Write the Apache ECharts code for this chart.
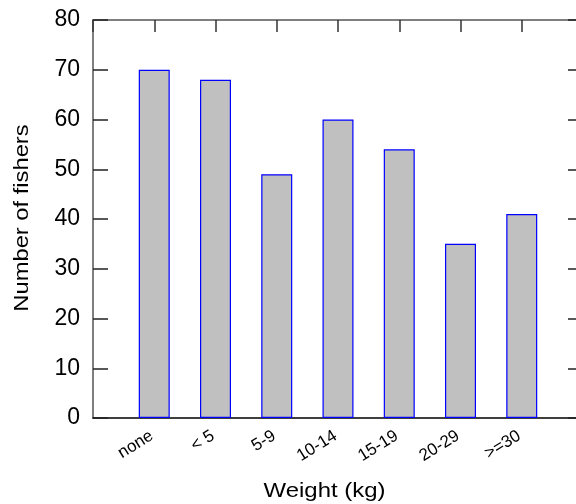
<!DOCTYPE html>
<html>
<head>
<meta charset="utf-8">
<script src="https://cdn.jsdelivr.net/npm/echarts@6/dist/echarts.min.js"></script>
<style>html,body{margin:0;padding:0;background:#fff}#c{width:576px;height:504px}</style>
</head>
<body>
<div id="c"></div>
<script>
var categories = ['none', '< 5', '5-9', '10-14', '15-19', '20-29', '>=30'];
var fishers = [70, 68, 49, 60, 54, 35, 41];
var yTicks = [0, 10, 20, 30, 40, 50, 60, 70, 80];

var chart = echarts.init(document.getElementById('c'), null, {renderer: 'canvas'});
var FONT = 'Liberation Sans, Arial, Helvetica, sans-serif';
var barData = fishers.map(function (v, i) { return [i + 1, v]; });

chart.setOption({
  animation: false,
  backgroundColor: '#ffffff',
  grid: {left: 93, top: 20, width: 490, height: 398, containLabel: false, outerBoundsMode: 'none'},
  xAxis: [{
    type: 'value', min: 0, max: categories.length + 1, interval: 1, position: 'bottom',
    axisLine: {show: true, onZero: false, lineStyle: {color: '#000', width: 1.5}},
    axisTick: {show: false},
    splitLine: {show: false},
    axisLabel: {
      show: true, rotate: 32, margin: 15, fontSize: 17, color: '#000', fontFamily: FONT,
      padding: [0, 3, 0, 0],
      formatter: function (v) { var i = Math.round(v) - 1; return (i >= 0 && i < categories.length) ? categories[i] : ''; }
    }
  }, {
    type: 'value', min: 0, max: categories.length + 1, interval: 1, position: 'top',
    axisLine: {show: true, onZero: false, lineStyle: {color: '#555', width: 1.5}},
    axisTick: {show: true, inside: true, length: 12, lineStyle: {color: '#333', width: 1.5}},
    splitLine: {show: false},
    axisLabel: {show: false}
  }],
  yAxis: [{
    type: 'value', min: yTicks[0], max: yTicks[yTicks.length - 1], interval: 10, position: 'left',
    axisLine: {show: true, onZero: false, lineStyle: {color: '#555', width: 1.5}},
    axisTick: {show: true, inside: true, length: 15, lineStyle: {color: '#222', width: 1.5}},
    splitLine: {show: false},
    axisLabel: {show: true, margin: 13, fontSize: 23, color: '#000', fontFamily: FONT}
  }, {
    type: 'value', min: yTicks[0], max: yTicks[yTicks.length - 1], interval: 10, position: 'right',
    axisLine: {show: true, onZero: false, lineStyle: {color: '#555', width: 1.5}},
    axisTick: {show: true, inside: true, length: 15, lineStyle: {color: '#222', width: 1.5}},
    splitLine: {show: false},
    axisLabel: {show: false}
  }],
  graphic: [{
    type: 'text', x: 324.5, y: 491, scaleX: 1.14,
    style: {text: 'Weight (kg)', font: '21px ' + FONT, fill: '#000', textAlign: 'center', textVerticalAlign: 'middle'}
  }, {
    type: 'text', x: 22, y: 218, rotation: Math.PI / 2, scaleX: 1.13,
    style: {text: 'Number of fishers', font: '21px ' + FONT, fill: '#000', textAlign: 'center', textVerticalAlign: 'middle'}
  }],
  series: [{
    type: 'bar', xAxisIndex: 0, yAxisIndex: 0,
    data: barData, barWidth: 31,
    itemStyle: {color: '#c0c0c0', borderColor: '#0000ff', borderWidth: 1.2}
  }]
});
</script>
</body>
</html>
